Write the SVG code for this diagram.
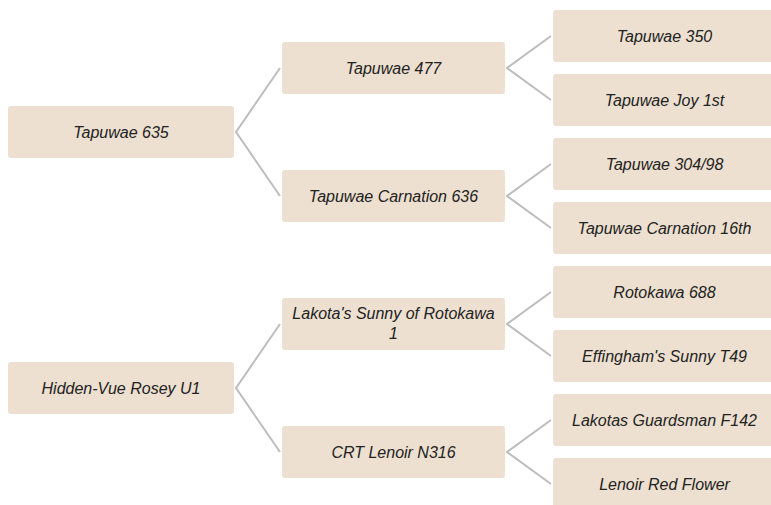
<svg xmlns="http://www.w3.org/2000/svg" width="771" height="505" viewBox="0 0 771 505">
<style>
.n rect{fill:#EDE0D0;}
.n text{font-family:"Liberation Sans",Arial,sans-serif;font-style:italic;font-size:16px;fill:#222;text-anchor:middle;}
.c path{fill:none;stroke:#BDBDBD;stroke-width:2;}
</style>
<rect width="771" height="505" fill="#fff"/>
<g class="c" id="connectors">
<path d="M280,68 L236,132 L280,196"/>
<path d="M280,324 L236,388 L280,452"/>
<path d="M551,36 L507,68 L551,100"/>
<path d="M551,164 L507,196 L551,228"/>
<path d="M551,292 L507,324 L551,356"/>
<path d="M551,420 L507,452 L551,484"/>
</g>
<g class="n" id="n-tapuwae635"><rect x="8" y="106" width="226" height="52" rx="3"/><text x="121" y="138">Tapuwae 635</text></g>
<g class="n" id="n-hiddenvue"><rect x="8" y="362" width="226" height="52" rx="3"/><text x="121" y="394">Hidden-Vue Rosey U1</text></g>
<g class="n" id="n-tapuwae477"><rect x="282" y="42" width="223" height="52" rx="3"/><text x="393.5" y="74">Tapuwae 477</text></g>
<g class="n" id="n-carnation636"><rect x="282" y="170" width="223" height="52" rx="3"/><text x="393.5" y="202">Tapuwae Carnation 636</text></g>
<g class="n" id="n-lakota"><rect x="282" y="298" width="223" height="52" rx="3"/><text x="393.5" y="319">Lakota's Sunny of Rotokawa</text><text x="393.5" y="339">1</text></g>
<g class="n" id="n-crt"><rect x="282" y="426" width="223" height="52" rx="3"/><text x="393.5" y="458">CRT Lenoir N316</text></g>
<g class="n" id="n-t350"><rect x="553" y="10" width="223" height="52" rx="3"/><text x="664.5" y="42">Tapuwae 350</text></g>
<g class="n" id="n-joy"><rect x="553" y="74" width="223" height="52" rx="3"/><text x="664.5" y="106">Tapuwae Joy 1st</text></g>
<g class="n" id="n-t304"><rect x="553" y="138" width="223" height="52" rx="3"/><text x="664.5" y="170">Tapuwae 304/98</text></g>
<g class="n" id="n-c16"><rect x="553" y="202" width="223" height="52" rx="3"/><text x="664.5" y="234">Tapuwae Carnation 16th</text></g>
<g class="n" id="n-r688"><rect x="553" y="266" width="223" height="52" rx="3"/><text x="664.5" y="298">Rotokawa 688</text></g>
<g class="n" id="n-eff"><rect x="553" y="330" width="223" height="52" rx="3"/><text x="664.5" y="362">Effingham's Sunny T49</text></g>
<g class="n" id="n-guard"><rect x="553" y="394" width="223" height="52" rx="3"/><text x="664.5" y="426">Lakotas Guardsman F142</text></g>
<g class="n" id="n-redflower"><rect x="553" y="458" width="223" height="52" rx="3"/><text x="664.5" y="490">Lenoir Red Flower</text></g>
</svg>
